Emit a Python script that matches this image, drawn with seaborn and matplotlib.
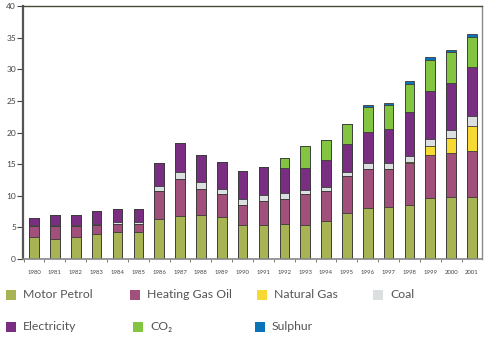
import numpy as np
import pandas as pd
import matplotlib
matplotlib.use("Agg")
import matplotlib.pyplot as plt
from matplotlib.patches import Rectangle
import seaborn as sns

years = [str(y) for y in range(1980, 2002)]
motor_petrol = [3.4, 3.2, 3.5, 3.9, 4.2, 4.2, 6.4, 6.8, 6.95, 6.6, 5.4, 5.3, 5.5, 5.4, 6.0, 7.3, 8.1, 8.3, 8.6, 9.7, 9.8, 9.8]
heating_gas_oil = [1.8, 1.95, 1.65, 1.4, 1.35, 1.35, 4.4, 5.9, 4.05, 3.7, 3.1, 3.9, 4.0, 4.8, 4.8, 5.8, 6.2, 6.0, 6.5, 6.8, 6.9, 7.3]
natural_gas = [0, 0, 0, 0, 0, 0, 0, 0, 0, 0, 0, 0, 0, 0, 0, 0, 0, 0, 0.2, 1.4, 2.5, 4.0]
coal = [0.15, 0.2, 0.2, 0.25, 0.25, 0.25, 0.8, 1.1, 1.1, 0.7, 1.0, 0.9, 0.9, 0.7, 0.6, 0.7, 0.8, 0.8, 1.0, 1.1, 1.2, 1.5]
electricity = [1.15, 1.65, 1.6, 2.05, 2.05, 2.15, 3.5, 4.5, 4.4, 4.4, 4.4, 4.5, 4.0, 3.5, 4.2, 4.4, 5.0, 5.4, 7.0, 7.5, 7.4, 7.7]
co2 = [0, 0, 0, 0, 0, 0, 0, 0, 0, 0, 0, 0, 1.6, 3.5, 3.2, 3.2, 4.0, 3.8, 4.3, 4.9, 4.9, 4.8]
sulphur = [0, 0, 0, 0, 0, 0, 0, 0, 0, 0, 0, 0, 0, 0, 0, 0, 0.2, 0.4, 0.6, 0.5, 0.3, 0.4]

series_names = ["Motor Petrol", "Heating Gas Oil", "Natural Gas", "Coal", "Electricity", "CO\u2082", "Sulphur"]
series_vals = [motor_petrol, heating_gas_oil, natural_gas, coal, electricity, co2, sulphur]
colors = ["#A8B354", "#A0507A", "#F7D934", "#DCDFDF", "#7A2E82", "#83C441", "#0B74B9"]

sns.set_theme(style="white")
plt.rcParams['font.family'] = ['Lato', 'DejaVu Sans']

fig = plt.figure(figsize=(4.9, 3.4), dpi=100)
ax = fig.add_axes([23/490, 1-259/340, (482-23)/490, (259-6)/340])

cum = np.cumsum(np.array(series_vals), axis=0)
df = pd.DataFrame({"year": years})
for name, c in zip(series_names, cum):
    df[name] = c

for name, col in reversed(list(zip(series_names, colors))):
    sns.barplot(data=df, x="year", y=name, color=col, saturation=1, width=0.46,
                edgecolor="#3a3a3a", linewidth=0.6, ax=ax, zorder=2)

ax.set_ylim(0, 40)
ax.set_xlim(-0.53, 21.48)
ax.set_xlabel("")
ax.set_ylabel("")
ax.set_yticks(range(0, 41, 5))
ax.tick_params(axis="y", which="major", left=True, length=4, width=0.8, color="#444444",
               labelsize=6, labelcolor="#444444", pad=1)
ax.tick_params(axis="x", which="major", bottom=False, labelsize=4.3, labelcolor="#444444", pad=2)
ax.set_xticks(np.arange(-0.5, 21.5, 1), minor=True)
ax.tick_params(axis="x", which="minor", bottom=True, length=2, width=0.6, color="#666666")
for s in ["top", "right"]:
    ax.spines[s].set_color("#8a8a8a")
    ax.spines[s].set_linewidth(1.0)
ax.spines["top"].set_color("#4a4a3a")
ax.spines["left"].set_color("#555555")
ax.spines["left"].set_linewidth(1.6)
ax.spines["bottom"].set_color("#888888")
ax.spines["bottom"].set_linewidth(1.2)

# Legend (manual placement, two rows)
legend_pos = [(6, 295), (130, 295), (257, 295), (373, 295), (6, 327), (133, 327), (255, 327)]
for (px, py), name, col in zip(legend_pos, series_names, colors):
    fig.patches.append(Rectangle((px/490, 1-(py+5)/340), 10/490, 10/340,
                                 transform=fig.transFigure, facecolor=col,
                                 edgecolor="none", figure=fig))
    fig.text((px+17)/490, 1-py/340, name, fontsize=8.8, color="#555555", va="center", ha="left")

fig.savefig("out.png", dpi=100)
